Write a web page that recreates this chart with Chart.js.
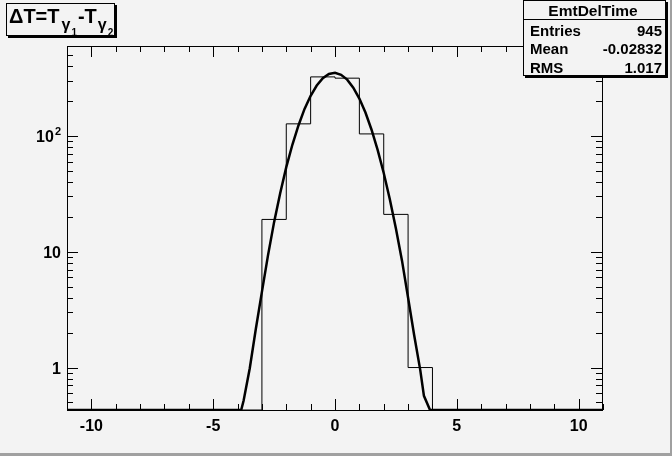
<!DOCTYPE html>
<html>
<head>
<meta charset="utf-8">
<script src="https://cdn.jsdelivr.net/npm/chart.js@4.4.0/dist/chart.umd.min.js"></script>
<style>
  html, body { margin: 0; padding: 0; background: #f3f3f3; }
</style>
</head>
<body>
<canvas id="c" width="672" height="456"></canvas>
<script>
// histogram EmtDelTime: bin edges and counts
const binEdges = [-3, -2, -1, 0, 1, 2, 3, 4];
const binCounts = [19, 127, 323, 315, 104, 21, 1];

// gaussian fit, points (values under the axis minimum sit on the axis)
const fitX = [-11, -3.85, -3.75, -3.5, -3.25, -3.0, -2.75, -2.5, -2.25, -2.0, -1.75, -1.5, -1.25, -1.0, -0.75, -0.5, -0.25, 0,
              0.25, 0.5, 0.75, 1.0, 1.25, 1.5, 1.75, 2.0, 2.25, 2.5, 2.75, 3.0, 3.25, 3.5, 3.65, 3.9, 11];
const fitY = [0.43, 0.43, 0.52, 0.98, 2.15, 4.5, 9.3, 18, 32, 53.7, 83.8, 123, 171, 222, 272, 315, 342, 350,
              337, 306, 261, 210, 159, 113, 75.7, 47.8, 28.4, 15.9, 8.37, 4.0, 1.9, 0.95, 0.57, 0.43, 0.43];

const xMajorTicks = [-10, -5, 0, 5, 10];
const xTickLabels = ['-10', '-5', '0', '5', '10'];
const yMajorTicks = [1, 10, 100];
const yTickLabels = [['1', ''], ['10', ''], ['10', '2']];

const statsTitle = 'EmtDelTime';
const statsNames = ['Entries', 'Mean', 'RMS'];
const statsValues = ['945', '-0.02832', '1.017'];

const xMin = -11, xMax = 11;
const yMin = 0.43, yMax = 597;

const bgColor = '#f3f3f3';
const FONT = '"Liberation Sans", Arial, Helvetica, sans-serif';

// step outline of the histogram
const histPoints = [{ x: xMin, y: yMin }];
binCounts.forEach((c, i) => histPoints.push({ x: binEdges[i], y: c }));
histPoints.push({ x: binEdges[binEdges.length - 1], y: yMin });
histPoints.push({ x: xMax, y: yMin });

const fitPoints = fitX.map((x, i) => ({ x: x, y: fitY[i] }));

function yMinorTicks() {
    const out = [];
    [0.1, 1, 10, 100].forEach(dec => {
        for (let k = 2; k <= 9; k++) {
            const v = k * dec;
            if (v > yMin && v < yMax) out.push(v);
        }
    });
    return out;
}

const rootPlugin = {
    id: 'rootLook',
    beforeDraw(chart) {
        const ctx = chart.ctx;
        ctx.save();
        ctx.fillStyle = bgColor;
        ctx.fillRect(0, 0, chart.width, chart.height);
        ctx.fillStyle = '#a0a0a0';
        ctx.fillRect(chart.width - 2, 0, 2, chart.height);
        ctx.fillRect(0, chart.height - 3, chart.width, 3);
        ctx.restore();
    },
    afterDraw(chart) {
        const ctx = chart.ctx;
        const a = chart.chartArea;
        const xs = chart.scales.x;
        const ys = chart.scales.y;
        ctx.save();

        // frame
        ctx.strokeStyle = '#000';
        ctx.lineWidth = 1;
        ctx.strokeRect(Math.round(a.left) + 0.5, Math.round(a.top) + 0.5,
                       Math.round(a.right - a.left) - 1, Math.round(a.bottom - a.top));

        // x ticks, bottom and top, pointing inwards
        ctx.beginPath();
        for (let v = xMin; v <= xMax; v++) {
            const px = Math.round(xs.getPixelForValue(v)) + 0.5;
            const len = xMajorTicks.includes(v) ? 11 : 6;
            ctx.moveTo(px, a.bottom);
            ctx.lineTo(px, a.bottom - len);
            ctx.moveTo(px, a.top);
            ctx.lineTo(px, a.top + len);
        }
        // y ticks, left and right
        const drawY = (v, len) => {
            const py = Math.round(ys.getPixelForValue(v)) + 0.5;
            ctx.moveTo(a.left, py);
            ctx.lineTo(a.left + len, py);
            ctx.moveTo(a.right - 1, py);
            ctx.lineTo(a.right - 1 - len, py);
        };
        yMajorTicks.forEach(v => drawY(v, 11));
        yMinorTicks().forEach(v => drawY(v, 6));
        ctx.stroke();

        // x labels
        ctx.fillStyle = '#000';
        ctx.font = 'bold 16px ' + FONT;
        ctx.textAlign = 'center';
        ctx.textBaseline = 'alphabetic';
        xMajorTicks.forEach((v, i) => {
            ctx.fillText(xTickLabels[i], xs.getPixelForValue(v), 431);
        });

        // y labels with superscript exponent
        ctx.textAlign = 'left';
        yMajorTicks.forEach((v, i) => {
            const py = ys.getPixelForValue(v);
            const base = yTickLabels[i][0], sup = yTickLabels[i][1];
            ctx.font = 'bold 16px ' + FONT;
            const wb = ctx.measureText(base).width;
            ctx.font = 'bold 11px ' + FONT;
            const ws = sup ? ctx.measureText(sup).width + 1 : 0;
            const x0 = 61 - wb - ws;
            ctx.font = 'bold 16px ' + FONT;
            ctx.fillText(base, x0, py + 6);
            if (sup) {
                ctx.font = 'bold 11px ' + FONT;
                ctx.fillText(sup, x0 + wb + 1, py - 1);
            }
        });

        // title box
        ctx.fillStyle = bgColor;
        ctx.fillRect(6, 3, 109, 33);
        ctx.strokeStyle = '#000';
        ctx.lineWidth = 1;
        ctx.strokeRect(6.5, 3.5, 108, 32);
        ctx.fillStyle = '#000';
        ctx.fillRect(115, 5, 2, 33);
        ctx.fillRect(8, 36, 109, 2);

        let tx = 9;
        const part = (s, size, base) => {
            ctx.font = 'bold ' + size + 'px ' + FONT;
            ctx.fillText(s, tx, base);
            tx += ctx.measureText(s).width;
        };
        part('\u0394T=T', 20, 23);
        tx += 2;
        part('\u03b3', 16, 30);
        tx += 1;
        part('1', 10, 36);
        tx += 1;
        part('-T', 20, 23);
        tx += 1;
        part('\u03b3', 16, 30);
        tx += 1;
        part('2', 10, 36);

        // stats box
        ctx.fillStyle = bgColor;
        ctx.fillRect(523, 0, 142, 76);
        ctx.strokeStyle = '#000';
        ctx.strokeRect(523.5, 0.5, 142, 75);
        ctx.fillStyle = '#000';
        ctx.fillRect(666, 2, 2, 76);
        ctx.fillRect(525, 76, 143, 2);
        ctx.beginPath();
        ctx.moveTo(523, 19.5);
        ctx.lineTo(666, 19.5);
        ctx.stroke();

        ctx.font = 'bold 15.5px ' + FONT;
        ctx.textAlign = 'center';
        ctx.fillText(statsTitle, 593, 16);
        const rowBase = [35.5, 54, 72.5];
        ctx.font = 'bold 15px ' + FONT;
        statsNames.forEach((n, i) => {
            ctx.textAlign = 'left';
            ctx.fillText(n, 530, rowBase[i]);
            ctx.textAlign = 'right';
            ctx.fillText(statsValues[i], 662, rowBase[i]);
        });

        ctx.restore();
    }
};

new Chart(document.getElementById('c'), {
    type: 'line',
    data: {
        datasets: [
            {
                label: 'fit',
                data: fitPoints,
                borderColor: '#000',
                borderWidth: 2.5,
                pointRadius: 0,
                tension: 0,
                order: 0
            },
            {
                label: 'EmtDelTime',
                data: histPoints,
                borderColor: '#000',
                borderWidth: 1,
                pointRadius: 0,
                stepped: 'before',
                order: 1
            }
        ]
    },
    options: {
        responsive: false,
        animation: false,
        devicePixelRatio: 1,
        layout: { padding: { left: 67, right: 69, top: 46, bottom: 46 } },
        plugins: { legend: { display: false }, tooltip: { enabled: false }, title: { display: false } },
        scales: {
            x: { type: 'linear', min: xMin, max: xMax, display: false },
            y: { type: 'logarithmic', min: yMin, max: yMax, display: false }
        }
    },
    plugins: [rootPlugin]
});
</script>
</body>
</html>
